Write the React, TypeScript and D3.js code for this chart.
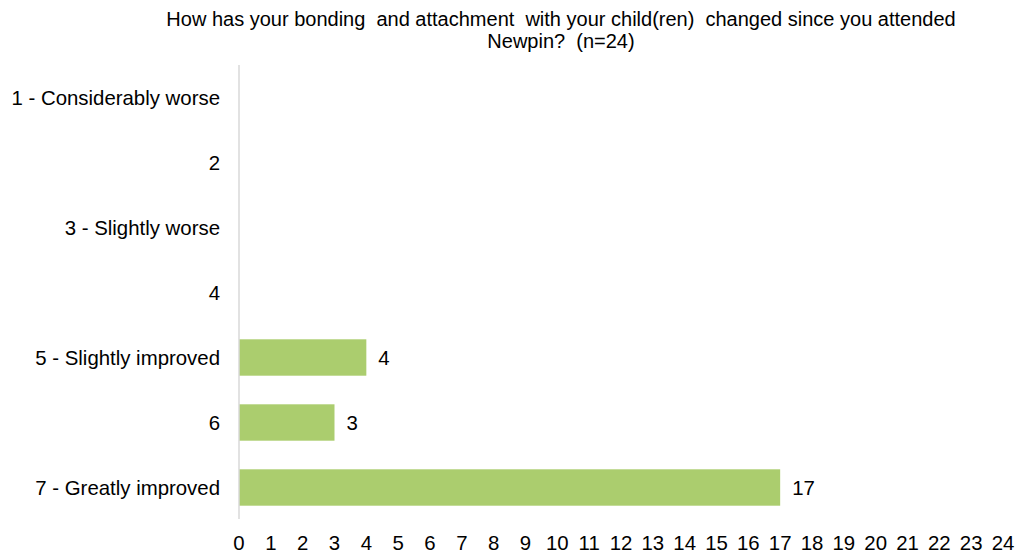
import React, { useEffect, useRef } from 'react';
import * as d3 from 'd3';

const categories = [
  '1 - Considerably worse',
  '2',
  '3 - Slightly worse',
  '4',
  '5 - Slightly improved',
  '6',
  '7 - Greatly improved'
];
const counts = [0, 0, 0, 0, 4, 3, 17];
const tickValues = d3.range(0, 25);
const titleLines = [
  'How has your bonding  and attachment  with your child(ren)  changed since you attended',
  'Newpin?  (n=24)'
];

const width = 1018;
const height = 559;

export default function App() {
  const svgRef = useRef<SVGSVGElement>(null);

  useEffect(() => {
    if (!svgRef.current) return;
    const svg = d3.select(svgRef.current);
    svg.selectAll('*').remove();

    const x = d3.scaleLinear().domain([0, 24]).range([239, 1003]);
    const y = d3.scaleBand<string>()
      .domain(categories)
      .range([65, 520])
      .paddingInner(0.44)
      .paddingOuter(0.22);

    const font = "'Liberation Sans', Arial, sans-serif";

    // title
    svg.append('g')
      .selectAll('text')
      .data(titleLines)
      .join('text')
      .attr('x', 561)
      .attr('y', (d, i) => 19 + i * 22)
      .attr('dy', '0.35em')
      .attr('text-anchor', 'middle')
      .attr('font-family', font)
      .attr('font-size', 20)
      .attr('fill', '#000')
      .style('white-space', 'pre')
      .text(d => d);

    // bars
    const rows = counts.map((v, i) => ({ cat: categories[i], v })).filter(d => d.v > 0);
    svg.append('g')
      .selectAll('rect')
      .data(rows)
      .join('rect')
      .attr('x', x(0))
      .attr('y', d => y(d.cat)!)
      .attr('width', d => x(d.v) - x(0))
      .attr('height', y.bandwidth())
      .attr('fill', '#abcd6e');

    // value labels
    svg.append('g')
      .selectAll('text')
      .data(rows)
      .join('text')
      .attr('x', d => x(d.v) + 12)
      .attr('y', d => y(d.cat)! + y.bandwidth() / 2)
      .attr('dy', '0.35em')
      .attr('font-family', font)
      .attr('font-size', 20.4)
      .attr('fill', '#000')
      .text(d => d.v);

    // vertical axis line
    svg.append('line')
      .attr('x1', x(0)).attr('x2', x(0))
      .attr('y1', 65).attr('y2', 519)
      .attr('stroke', '#d9d9d9')
      .attr('stroke-width', 1.5);

    // category labels
    svg.append('g')
      .selectAll('text')
      .data(categories)
      .join('text')
      .attr('x', 220)
      .attr('y', d => y(d)! + y.bandwidth() / 2)
      .attr('dy', '0.35em')
      .attr('text-anchor', 'end')
      .attr('font-family', font)
      .attr('font-size', 20.4)
      .attr('fill', '#000')
      .text(d => d);

    // x tick labels
    svg.append('g')
      .selectAll('text')
      .data(tickValues)
      .join('text')
      .attr('x', d => x(d))
      .attr('y', 543)
      .attr('dy', '0.35em')
      .attr('text-anchor', 'middle')
      .attr('font-family', font)
      .attr('font-size', 20.4)
      .attr('fill', '#000')
      .text(d => d);
  }, []);

  return (
    <div style={{ position: 'absolute', left: 0, top: 0 }}>
      <svg ref={svgRef} width={width} height={height} style={{ display: 'block', background: '#fff' }} />
    </div>
  );
}
